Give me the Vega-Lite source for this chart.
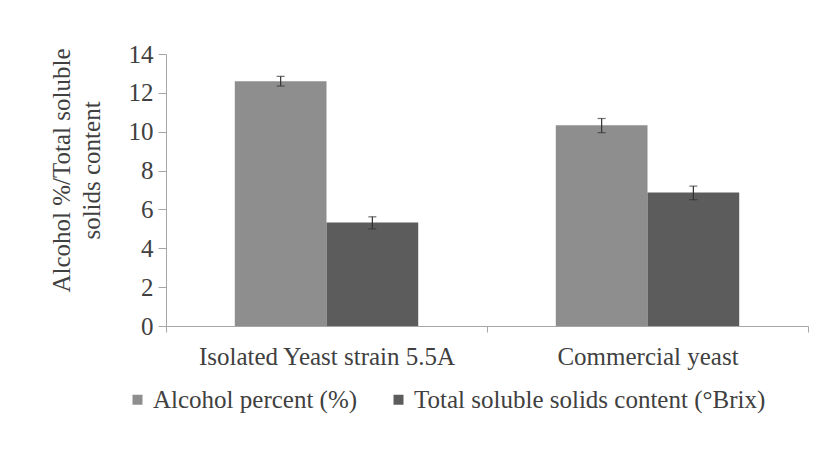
{
  "$schema": "https://vega.github.io/schema/vega-lite/v6.json",
  "width": 642,
  "height": 272,
  "autosize": "none",
  "padding": {"left": 166, "top": 54, "right": 29, "bottom": 124},
  "background": "white",
  "config": {
    "view": {"stroke": null},
    "font": "Liberation Serif",
    "axis": {
      "labelFont": "Liberation Serif",
      "titleFont": "Liberation Serif",
      "labelColor": "#404040",
      "titleColor": "#404040",
      "domainColor": "#a6a6a6",
      "tickColor": "#a6a6a6",
      "grid": false
    },
    "axisY": {
      "labelOverlap": false,
      "labelFontSize": 25,
      "labelPadding": 5,
      "tickSize": 8,
      "titleFontSize": 25,
      "titleFontWeight": "normal",
      "titleLineHeight": 30,
      "titleAngle": -90,
      "titleBaseline": "top",
      "titleAlign": "center",
      "titleX": -117,
      "titleY": 116
    }
  },
  "data": {
    "values": [
      {"group": "Isolated Yeast strain  5.5A", "series": "Alcohol percent (%)", "value": 12.6, "lo": 12.35, "hi": 12.85},
      {"group": "Isolated Yeast strain  5.5A", "series": "Total soluble solids content (°Brix)", "value": 5.33, "lo": 5.0, "hi": 5.62},
      {"group": "Commercial yeast", "series": "Alcohol percent (%)", "value": 10.33, "lo": 9.95, "hi": 10.68},
      {"group": "Commercial yeast", "series": "Total soluble solids content (°Brix)", "value": 6.87, "lo": 6.5, "hi": 7.2}
    ]
  },
  "encoding": {
    "x": {
      "field": "group",
      "type": "nominal",
      "sort": null,
      "scale": {"paddingInner": 0, "paddingOuter": 0},
      "axis": {
        "title": null,
        "labelAngle": 0,
        "labelFontSize": 25,
        "labelPadding": 12,
        "labelLimit": 600,
        "tickBand": "extent",
        "tickSize": 6,
        "labelColor": "#404040"
      }
    },
    "xOffset": {
      "field": "series",
      "type": "nominal",
      "sort": null,
      "scale": {"paddingInner": 0, "paddingOuter": 0.75}
    }
  },
  "layer": [
    {
      "mark": {"type": "bar"},
      "encoding": {
        "y": {
          "field": "value",
          "type": "quantitative",
          "scale": {"domain": [0, 14]},
          "axis": {
            "values": [0, 2, 4, 6, 8, 10, 12, 14],
            "title": ["Alcohol %/Total soluble", "solids content"]
          }
        },
        "color": {
          "field": "series",
          "type": "nominal",
          "sort": null,
          "scale": {"range": ["#8e8e8e", "#5c5c5c"]},
          "legend": {
            "title": null,
            "orient": "none",
            "direction": "horizontal",
            "legendX": -41,
            "legendY": 333,
            "symbolType": "square",
            "symbolSize": 100,
            "symbolStrokeWidth": 0,
            "symbolOpacity": 1,
            "labelFont": "Liberation Serif",
            "labelFontSize": 25,
            "labelColor": "#404040",
            "labelOffset": 3,
            "columnPadding": 28,
            "labelLimit": 600
          }
        }
      }
    },
    {
      "mark": {"type": "rule", "color": "#333333", "strokeWidth": 1.2},
      "encoding": {
        "y": {
          "field": "lo",
          "type": "quantitative",
          "axis": {
            "values": [0, 2, 4, 6, 8, 10, 12, 14],
            "title": ["Alcohol %/Total soluble", "solids content"]
          }
        },
        "y2": {"field": "hi"}
      }
    },
    {
      "mark": {"type": "tick", "color": "#333333", "size": 8, "thickness": 1.2, "orient": "horizontal"},
      "encoding": {
        "y": {
          "field": "lo",
          "type": "quantitative",
          "axis": {
            "values": [0, 2, 4, 6, 8, 10, 12, 14],
            "title": ["Alcohol %/Total soluble", "solids content"]
          }
        }
      }
    },
    {
      "mark": {"type": "tick", "color": "#333333", "size": 8, "thickness": 1.2, "orient": "horizontal"},
      "encoding": {
        "y": {
          "field": "hi",
          "type": "quantitative",
          "axis": {
            "values": [0, 2, 4, 6, 8, 10, 12, 14],
            "title": ["Alcohol %/Total soluble", "solids content"]
          }
        }
      }
    }
  ]
}
